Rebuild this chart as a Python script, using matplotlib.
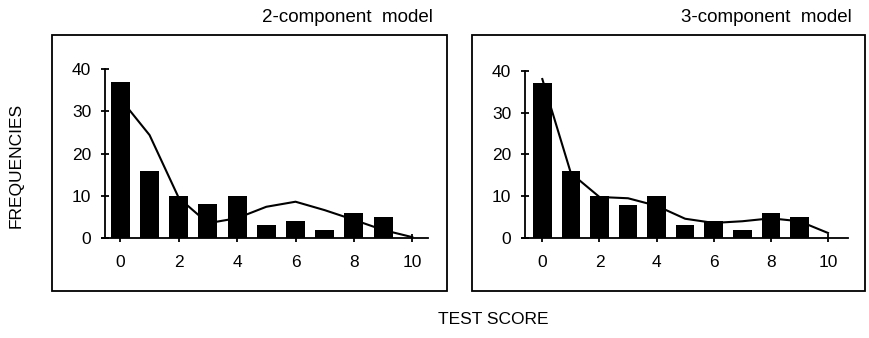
import numpy as np
import matplotlib.pyplot as plt
from matplotlib.patches import Rectangle

plt.rcParams['font.family'] = ['Liberation Sans', 'DejaVu Sans']

scores = [0, 1, 2, 3, 4, 5, 6, 7, 8, 9]
freqs = [37, 16, 10, 8, 10, 3, 4, 2, 6, 5]

fit_x = [0, 1, 2, 3, 4, 5, 6, 7, 8, 9, 10]
fit_2comp = [33, 24.4, 9.5, 3.5, 4.7, 7.4, 8.6, 6.6, 4.3, 1.9, 0.2]
fit_3comp = [38, 15.5, 9.8, 9.5, 7.7, 4.6, 3.6, 4.0, 4.7, 4.0, 1.2]

titles = ["2-component  model", "3-component  model"]
xticks = [0, 2, 4, 6, 8, 10]
yticks = [0, 10, 20, 30, 40]

fig = plt.figure(figsize=(8.7, 3.38), dpi=100)

# outer boxes around each panel
for x0, w in [(0.0598, 0.454), (0.5425, 0.4518)]:
    fig.patches.append(Rectangle((x0, 0.139), w, 0.7574, transform=fig.transFigure,
                                 fill=False, edgecolor="black", linewidth=1.3))

panels = [
    (fig.add_axes([0.1169, 0.2959, 0.3751, 0.4991]), fit_2comp, (-0.52, 10.54)),
    (fig.add_axes([0.5997, 0.2959, 0.3750, 0.4950]), fit_3comp, (-0.60, 10.70)),
]

for ax, fit, (xmin, xmax) in panels:
    ax.bar(scores, freqs, width=0.65, color="black", zorder=2)
    ax.plot(fit_x, fit, color="black", linewidth=1.5, zorder=3)
    ax.set_xlim(xmin - 0.12, xmax)
    ax.set_ylim(0, 40)
    ax.spines["top"].set_visible(False)
    ax.spines["right"].set_visible(False)
    ax.spines["left"].set_position(("data", xmin))
    ax.spines["left"].set_linewidth(1.3)
    ax.spines["bottom"].set_linewidth(1.3)
    ax.set_xticks(xticks)
    ax.set_yticks(yticks)
    ax.tick_params(axis="both", direction="inout", length=6, width=1.3, labelsize=12.5)
    ax.tick_params(axis="x", pad=9)
    ax.tick_params(axis="y", pad=7)
    ax.patch.set_alpha(0)

fig.text(0.497, 0.935, titles[0], ha="right", va="baseline", fontsize=13.5)
fig.text(0.979, 0.935, titles[1], ha="right", va="baseline", fontsize=13.5)
fig.text(0.018, 0.51, "FREQUENCIES", rotation=90, ha="center", va="center", fontsize=12.5)
fig.text(0.567, 0.04, "TEST SCORE", ha="center", va="baseline", fontsize=12.5)

fig.savefig("out.png", dpi=100)
